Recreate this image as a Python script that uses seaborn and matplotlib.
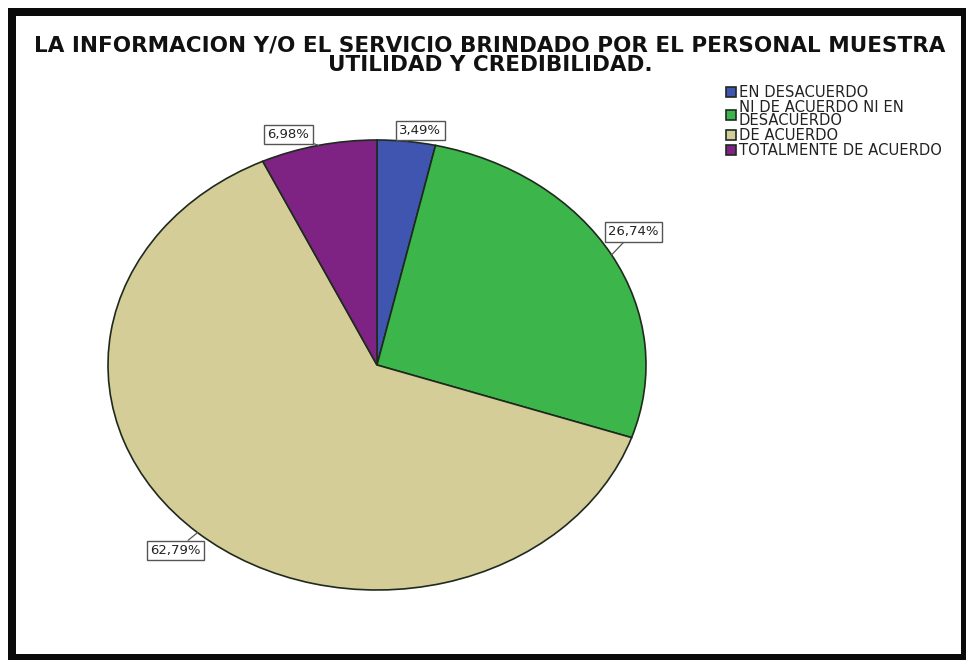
import numpy as np
import matplotlib
matplotlib.use("Agg")
import matplotlib.pyplot as plt
from matplotlib.patches import Rectangle
import seaborn as sns

# Survey answer categories and their shares (%)
categories = ["EN DESACUERDO", "NI DE ACUERDO NI EN\nDESACUERDO", "DE ACUERDO", "TOTALMENTE DE ACUERDO"]
percentages = [3.49, 26.74, 62.79, 6.98]
value_labels = ["3,49%", "26,74%", "62,79%", "6,98%"]
slice_colors = ["#3f55b0", "#3cb54a", "#d5cd98", "#7e2384"]
title = "LA INFORMACION Y/O EL SERVICIO BRINDADO POR EL PERSONAL MUESTRA\nUTILIDAD Y CREDIBILIDAD."

sns.set_theme(style="white")
plt.rcParams["font.family"] = ["DejaVu Sans"]
palette = sns.color_palette(slice_colors)

W, H = 966, 660
fig = plt.figure(figsize=(W / 100, H / 100), dpi=100)
fig.patch.set_facecolor("white")

# Thick black frame around the chart area
fig.add_artist(Rectangle((8 / W, 0), 958 / W, 652 / H, transform=fig.transFigure,
                         facecolor="#0a0a0a", edgecolor="none", zorder=0))
fig.add_artist(Rectangle((16 / W, 6 / H), 945 / W, 638 / H, transform=fig.transFigure,
                         facecolor="white", edgecolor="none", zorder=0))

# Elliptical pie: axes box defines the ellipse
ax = fig.add_axes([108 / W, 70 / H, 538 / W, 450 / H])
wedges, _ = ax.pie(percentages, colors=palette, startangle=90, counterclock=False,
                   radius=1.0, wedgeprops=dict(edgecolor="#1e2a1e", linewidth=1.2))
ax.set_aspect("auto")
ax.set_xlim(-1, 1)
ax.set_ylim(-1, 1)
ax.axis("off")

# Boxed percentage labels, each tied to the rim at its slice's mid-angle
offsets = [(14, 11), (22, 23), (-22, -18), (-30, 11)]
for w, txt, (dx, dy) in zip(wedges, value_labels, offsets):
    mid = np.deg2rad((w.theta1 + w.theta2) / 2)
    x, y = np.cos(mid), np.sin(mid)
    ax.annotate(txt, xy=(x, y), xytext=(dx, dy), textcoords="offset pixels",
                ha="center", va="center", fontsize=9.5, color="#222222",
                bbox=dict(boxstyle="square,pad=0.25", facecolor="white",
                          edgecolor="#555555", linewidth=1.0),
                arrowprops=dict(arrowstyle="-", color="#555555", lw=0.9,
                                shrinkA=0, shrinkB=0),
                annotation_clip=False, zorder=5)

# Title
fig.text(490 / W, 1 - 55 / H, title, ha="center", va="center", fontsize=15.5,
         fontweight="bold", color="#111111", linespacing=0.95)

# Legend in the upper right
leg = fig.legend(wedges, categories, loc="upper left", bbox_to_anchor=(726 / W, 1 - 85 / H),
                 frameon=False, fontsize=10.6, handlelength=0.7, handleheight=0.7,
                 handletextpad=0.15, labelspacing=0.0, borderpad=0, borderaxespad=0)
for t in leg.get_texts():
    t.set_linespacing(0.85)
    t.set_color("#222222")

fig.savefig("out.png", dpi=100, facecolor="white")
